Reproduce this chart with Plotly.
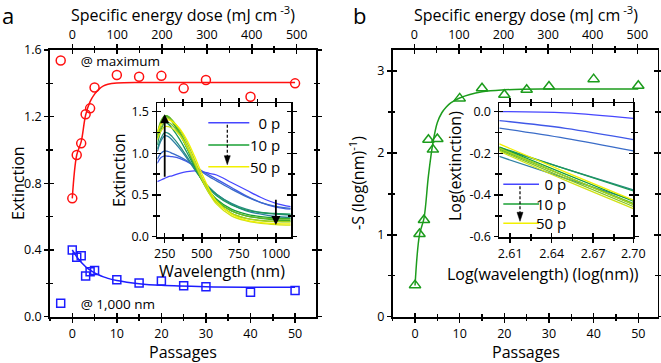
import plotly.graph_objects as go

W, H = 661, 363
FONT = "Open Sans"

# ---------------- data ----------------
passages = [0, 1, 2, 3, 4, 5, 10, 15, 20, 25, 30, 40, 50]
ext_maximum = [0.71, 0.97, 1.04, 1.215, 1.25, 1.375, 1.45, 1.44, 1.445, 1.37, 1.42, 1.32, 1.40]
ext_1000nm = [0.40, 0.357, 0.365, 0.244, 0.27, 0.277, 0.222, 0.202, 0.214, 0.185, 0.18, 0.146, 0.157]
slope_S = [0.385, 1.01, 1.18, 2.16, 2.04, 2.17, 2.665, 2.79, 2.71, 2.77, 2.81, 2.90, 2.82]

fit_passages = [0, 1, 2, 3, 4, 5, 6, 7, 8, 10, 15, 20, 30, 40, 50]
fit_maximum = [0.71, 0.97, 1.05, 1.21, 1.29, 1.335, 1.365, 1.385, 1.395, 1.402, 1.405, 1.405, 1.405, 1.405, 1.405]
fit_1000nm = [0.40, 0.36, 0.326, 0.30, 0.279, 0.263, 0.25, 0.239, 0.23, 0.217, 0.198, 0.188, 0.18, 0.177, 0.176]
fit_S = [0.38, 1.0, 1.2, 1.72, 2.12, 2.37, 2.49, 2.56, 2.61, 2.67, 2.745, 2.77, 2.78, 2.78, 2.78]

wavelengths = [200, 225, 250, 275, 300, 350, 400, 450, 500, 550, 600, 700, 800, 900, 1000, 1100]
spec_0 = [0.66, 0.68, 0.70, 0.72, 0.73, 0.76, 0.78, 0.79, 0.78, 0.76, 0.74, 0.65, 0.56, 0.47, 0.40, 0.36]
spec_1 = [0.88, 0.95, 0.97, 0.965, 0.96, 0.94, 0.90, 0.85, 0.79, 0.74, 0.69, 0.59, 0.49, 0.41, 0.356, 0.33]
spec_2 = [0.93, 1.00, 1.03, 1.02, 1.00, 0.96, 0.91, 0.85, 0.78, 0.72, 0.67, 0.57, 0.48, 0.41, 0.364, 0.34]
spec_3 = [1.02, 1.15, 1.21, 1.20, 1.16, 1.06, 0.94, 0.81, 0.69, 0.59, 0.51, 0.39, 0.31, 0.27, 0.242, 0.23]
spec_4 = [1.05, 1.18, 1.25, 1.24, 1.20, 1.09, 0.96, 0.82, 0.69, 0.59, 0.51, 0.40, 0.33, 0.29, 0.272, 0.26]
spec_5 = [1.10, 1.28, 1.37, 1.35, 1.30, 1.17, 1.01, 0.84, 0.69, 0.58, 0.49, 0.38, 0.32, 0.29, 0.278, 0.27]
spec_10 = [1.18, 1.36, 1.45, 1.44, 1.38, 1.24, 1.06, 0.86, 0.68, 0.55, 0.45, 0.33, 0.27, 0.24, 0.224, 0.22]
spec_15 = [1.22, 1.37, 1.44, 1.43, 1.38, 1.25, 1.07, 0.87, 0.68, 0.54, 0.43, 0.31, 0.25, 0.22, 0.20, 0.195]
spec_20 = [1.24, 1.39, 1.45, 1.44, 1.40, 1.27, 1.09, 0.88, 0.69, 0.54, 0.43, 0.31, 0.25, 0.225, 0.214, 0.21]
spec_25 = [1.18, 1.31, 1.37, 1.37, 1.34, 1.23, 1.07, 0.88, 0.68, 0.52, 0.41, 0.28, 0.22, 0.195, 0.184, 0.18]
spec_30 = [1.24, 1.36, 1.42, 1.42, 1.39, 1.29, 1.13, 0.93, 0.72, 0.55, 0.42, 0.28, 0.22, 0.19, 0.18, 0.178]
spec_40 = [1.16, 1.27, 1.32, 1.32, 1.30, 1.22, 1.08, 0.90, 0.70, 0.52, 0.39, 0.25, 0.19, 0.16, 0.146, 0.14]
spec_50 = [1.25, 1.35, 1.40, 1.40, 1.38, 1.30, 1.16, 0.97, 0.76, 0.57, 0.42, 0.27, 0.20, 0.17, 0.158, 0.155]
spectra = [spec_0, spec_1, spec_2, spec_3, spec_4, spec_5, spec_10, spec_15,
           spec_20, spec_25, spec_30, spec_40, spec_50]

log_wavelength = [2.6021, 2.65, 2.699]
loglines = [
    [0.0, -0.006, -0.032],
    [-0.043, -0.08, -0.134],
    [-0.079, -0.128, -0.188],
    [-0.215, -0.32, -0.425],
    [-0.175, -0.275, -0.375],
    [-0.17, -0.275, -0.38],
    [-0.17, -0.30, -0.43],
    [-0.175, -0.31, -0.445],
    [-0.18, -0.31, -0.44],
    [-0.185, -0.32, -0.455],
    [-0.175, -0.31, -0.445],
    [-0.19, -0.33, -0.465],
    [-0.155, -0.29, -0.425],
]
spec_colors = ['#4646ff', '#4058e8', '#3a6cc8', '#2f80a4', '#268c80', '#1d975c', '#1aa035',
               '#3fad2a', '#62b826', '#86c522', '#a9d31d', '#cfe214', '#f2f000']
legend_labels = ["\u20070 p", "10 p", "50 p"]
legend_idx = [0, 6, 12]

inset_x_ticks = [2.61, 2.64, 2.67, 2.699]
inset_x_ticktext = ["2.61", "2.64", "2.67", "2.70"]
inset_y_ticks = [-0.6, -0.4, -0.2, 0.0]
inset_y_ticktext = ["-0.6", "-0.4", "-0.2", "0.0"]

# ---------------- helpers ----------------
def fx(p):
    return p / W


def fy(p):
    return 1 - p / H


MAJ, MIN, TW = 4, 2.5, 1.5
TICKFONT = dict(family=FONT, size=12.5, color='black')


def ax(**kw):
    d = dict(showgrid=False, zeroline=False, linecolor='black', linewidth=1.8,
             tickcolor='black', tickwidth=TW, ticklen=MAJ, tickfont=TICKFONT,
             fixedrange=True, automargin=False)
    d.update(kw)
    return d


def minor(direction, **kw):
    d = dict(ticks=direction, ticklen=MIN, tickwidth=TW, tickcolor='black', showgrid=False)
    d.update(kw)
    return d


layout = dict(
    width=W, height=H, margin=dict(l=0, r=0, t=0, b=0, autoexpand=False),
    paper_bgcolor='white', plot_bgcolor='rgba(0,0,0,0)',
    font=dict(family=FONT, color='black'),
)

PA_XR = [-5, 54.7]
PB_XR = [-5, 54.3]
DOSE_A = [-49.7, 543.1]
DOSE_B = [-48.4, 545.3]
MAIN_Y_DOM = [fy(316.7), fy(50)]
INSET_Y_DOM = [fy(236.7), fy(103.3)]

# (xaxis id, yaxis id) pairs that need a placeholder trace so the axis is drawn
axis_pairs = []


def key(l, n):
    return f'{l}axis' if n == 1 else f'{l}axis{n}'


def ref(l, n):
    return l if n == 1 else f'{l}{n}'


def main_axes(xn, yn, xdom, xr, dose, yr, ydt, ymin, yfmt):
    xa, ya = ref('x', xn), ref('y', yn)
    layout[key('x', xn)] = ax(domain=xdom, range=xr, anchor=ya, side='bottom', showline=True,
                              ticks='outside', tick0=0, dtick=10,
                              minor=minor('outside', dtick=5, tick0=0))
    layout[key('x', xn + 1)] = ax(overlaying=xa, anchor=ya, side='bottom', range=xr, showline=False,
                                  ticks='inside', tick0=0, dtick=10, showticklabels=False,
                                  minor=minor('inside', dtick=5, tick0=0))
    layout[key('x', xn + 2)] = ax(overlaying=xa, anchor=ya, side='top', range=dose, showline=True,
                                  ticks='outside', tick0=0, dtick=100,
                                  minor=minor('outside', dtick=50, tick0=0))
    layout[key('x', xn + 3)] = ax(overlaying=xa, anchor=ya, side='top', range=dose, showline=False,
                                  ticks='inside', tick0=0, dtick=100, showticklabels=False,
                                  minor=minor('inside', dtick=50, tick0=0))
    layout[key('y', yn)] = ax(domain=MAIN_Y_DOM, range=yr, anchor=xa, showline=True, mirror='ticks',
                              ticks='outside', tick0=0, dtick=ydt, tickformat=yfmt,
                              minor=minor('outside', dtick=ymin, tick0=0))
    layout[key('y', yn + 1)] = ax(overlaying=ya, anchor=xa, range=yr, showline=False, mirror='ticks',
                                  ticks='inside', tick0=0, dtick=ydt, showticklabels=False,
                                  minor=minor('inside', dtick=ymin, tick0=0))
    for k in (1, 2, 3):
        axis_pairs.append((ref('x', xn + k), ya))
    axis_pairs.append((xa, ref('y', yn + 1)))


main_axes(1, 1, [fx(50), fx(316)], PA_XR, DOSE_A, [0, 1.6], 0.4, 0.2, '.1f')
main_axes(7, 5, [fx(392.7), fx(657.5)], PB_XR, DOSE_B, [0, 3.256], 1, 0.5, 'd')

# inset a axes
for n, direction, lab in [(5, 'outside', True), (6, 'inside', False)]:
    layout[f'xaxis{n}'] = ax(range=[200, 1100], anchor='y3', showline=(n == 5), mirror='ticks',
                             ticks=direction, tick0=0, dtick=250, showticklabels=lab,
                             minor=minor(direction, dtick=125, tick0=0))
    if n == 5:
        layout['xaxis5']['domain'] = [fx(157.3), fx(290.7)]
    else:
        layout['xaxis6']['overlaying'] = 'x5'
for n, direction, lab in [(3, 'outside', True), (4, 'inside', False)]:
    layout[f'yaxis{n}'] = ax(range=[0, 1.6], anchor='x5', showline=(n == 3), mirror='ticks',
                             ticks=direction, tick0=0, dtick=0.5, tickformat='.1f', showticklabels=lab,
                             minor=minor(direction, dtick=0.25, tick0=0))
    if n == 3:
        layout['yaxis3']['domain'] = INSET_Y_DOM
    else:
        layout['yaxis4']['overlaying'] = 'y3'
axis_pairs += [('x6', 'y3'), ('x5', 'y4')]

# inset b axes
for n, direction, lab in [(11, 'outside', True), (12, 'inside', False)]:
    layout[f'xaxis{n}'] = ax(range=[2.6021, 2.699], anchor='y7', showline=(n == 11), mirror='ticks',
                             ticks=direction, tickmode='array', tickvals=inset_x_ticks,
                             ticktext=inset_x_ticktext, showticklabels=lab,
                             minor=minor(direction, tickmode='array', tickvals=[2.625, 2.655, 2.685]))
    if n == 11:
        layout['xaxis11']['domain'] = [fx(499.3), fx(633.3)]
    else:
        layout['xaxis12']['overlaying'] = 'x11'
for n, direction, lab in [(7, 'outside', True), (8, 'inside', False)]:
    layout[f'yaxis{n}'] = ax(range=[-0.6, 0.04], anchor='x11', showline=(n == 7), mirror='ticks',
                             ticks=direction, tickmode='array', tickvals=inset_y_ticks,
                             ticktext=inset_y_ticktext, showticklabels=lab,
                             minor=minor(direction, tickmode='array', tickvals=[-0.5, -0.3, -0.1]))
    if n == 7:
        layout['yaxis7']['domain'] = INSET_Y_DOM
    else:
        layout['yaxis8']['overlaying'] = 'y7'
axis_pairs += [('x12', 'y7'), ('x11', 'y8')]

# legends
legend_common = dict(bgcolor='rgba(0,0,0,0)', borderwidth=0, xanchor='left', yanchor='middle',
                     font=dict(family=FONT, size=13.5, color='black'), itemclick=False,
                     itemdoubleclick=False)
layout['legend'] = dict(legend_common, x=fx(40.7), y=fy(60.7))
layout['legend2'] = dict(legend_common, x=fx(40.7), y=fy(303.5))
layout['showlegend'] = True

fig = go.Figure(layout=layout)

# placeholder (empty) traces so every overlay axis gets drawn
for xa_, ya_ in axis_pairs:
    fig.add_trace(go.Scatter(x=[None], y=[None], xaxis=xa_, yaxis=ya_, mode='lines',
                             showlegend=False, hoverinfo='skip'))

# ---------------- traces ----------------
RED, BLUE, GREEN = '#ff1010', '#1c1cff', '#1c9c1c'
fig.add_trace(go.Scatter(x=fit_passages, y=fit_maximum, mode='lines', xaxis='x', yaxis='y',
                         line=dict(color=RED, width=1.5, shape='spline'), showlegend=False,
                         hoverinfo='skip'))
fig.add_trace(go.Scatter(x=passages, y=ext_maximum, mode='markers', xaxis='x', yaxis='y',
                         name='@ maximum', legend='legend',
                         marker=dict(symbol='circle-open', size=9, color=RED,
                                     line=dict(width=1.5, color=RED))))
fig.add_trace(go.Scatter(x=fit_passages, y=fit_1000nm, mode='lines', xaxis='x', yaxis='y',
                         line=dict(color=BLUE, width=1.5, shape='spline'), showlegend=False,
                         hoverinfo='skip'))
fig.add_trace(go.Scatter(x=passages, y=ext_1000nm, mode='markers', xaxis='x', yaxis='y',
                         name='@ 1,000 nm', legend='legend2',
                         marker=dict(symbol='square-open', size=8, color=BLUE,
                                     line=dict(width=1.5, color=BLUE))))
fig.add_trace(go.Scatter(x=fit_passages, y=fit_S, mode='lines', xaxis='x7', yaxis='y5',
                         line=dict(color=GREEN, width=1.5, shape='spline'), showlegend=False,
                         hoverinfo='skip'))
fig.add_trace(go.Scatter(x=passages, y=slope_S, mode='markers', xaxis='x7', yaxis='y5',
                         showlegend=False,
                         marker=dict(symbol='triangle-up-open', size=10, color=GREEN,
                                     line=dict(width=1.5, color=GREEN))))

for i, p in enumerate(passages):
    fig.add_trace(go.Scatter(x=wavelengths, y=spectra[i], mode='lines', xaxis='x5', yaxis='y3',
                             line=dict(color=spec_colors[i], width=1.3, shape='spline'),
                             showlegend=False, name=f'{p} p'))
for i, p in enumerate(passages):
    fig.add_trace(go.Scatter(x=log_wavelength, y=loglines[i], mode='lines', xaxis='x11', yaxis='y7',
                             line=dict(color=spec_colors[i], width=1.3, shape='spline'),
                             showlegend=False, name=f'{p} p'))

# ---------------- annotations ----------------
ann = []


def text(x, y, s, size=16, angle=0, xanchor='center'):
    ann.append(dict(x=fx(x), y=fy(y), xref='paper', yref='paper', text=s, showarrow=False,
                    textangle=angle, xanchor=xanchor, yanchor='middle',
                    font=dict(family=FONT, size=size, color='black')))


text(8, 14.5, 'a', size=22)
text(359.5, 14.5, 'b', size=22)
text(183, 14, 'Specific energy dose (mJ cm<sup> -3</sup>)')
text(526, 14, 'Specific energy dose (mJ cm<sup> -3</sup>)')
text(183, 352, 'Passages')
text(526, 352, 'Passages')
text(18, 183, 'Extinction', angle=-90)
text(357, 183, '-S (log(nm)<sup>-1</sup>)', angle=-90)
text(119, 170, 'Extinction', angle=-90)
text(222, 271, 'Wavelength (nm)')
text(455, 166, 'Log(extinction)', angle=-90)
text(543, 274, 'Log(wavelength) (log(nm))')

# solid arrows in inset a
for (xa_, y0, y1) in [(250, 0.70, 1.47), (1000, 0.46, 0.14)]:
    ann.append(dict(x=xa_, y=y1, ax=xa_, ay=y0, xref='x5', yref='y3', axref='x5', ayref='y3',
                    text='', showarrow=True, arrowhead=2, arrowsize=1, arrowwidth=1.8,
                    arrowcolor='black', standoff=0, startstandoff=0))

shapes = []


def inset_legend(x0, x1, ys, xtext, xarrow):
    for k, yv in enumerate(ys):
        shapes.append(dict(type='line', xref='paper', yref='paper', x0=fx(x0), x1=fx(x1),
                           y0=fy(yv), y1=fy(yv),
                           line=dict(color=spec_colors[legend_idx[k]], width=1.6)))
        text(xtext, yv, legend_labels[k], size=15, xanchor='right')
    ytop, ybot = ys[0] + 2, ys[2] - 2
    shapes.append(dict(type='line', xref='paper', yref='paper', x0=fx(xarrow), x1=fx(xarrow),
                       y0=fy(ytop), y1=fy(ybot - 8), line=dict(color='black', width=1.2, dash='3px,2px')))
    shapes.append(dict(type='path', xref='paper', yref='paper',
                       path=f'M {fx(xarrow - 3)} {fy(ybot - 9)} L {fx(xarrow + 3)} {fy(ybot - 9)} '
                            f'L {fx(xarrow)} {fy(ybot)} Z',
                       fillcolor='black', line=dict(color='black', width=0.5)))


inset_legend(208.3, 249.3, [122.7, 145, 166.7], 281.7, 227.3)
inset_legend(503.3, 539, [184.3, 204, 223.3], 567.7, 520)

fig.update_layout(annotations=ann, shapes=shapes)
fig.write_html("out.html", config=dict(displayModeBar=False, staticPlot=True),
               post_script="document.body.style.margin='0';document.body.style.padding='0';"
                           "document.body.style.overflow='hidden';")
